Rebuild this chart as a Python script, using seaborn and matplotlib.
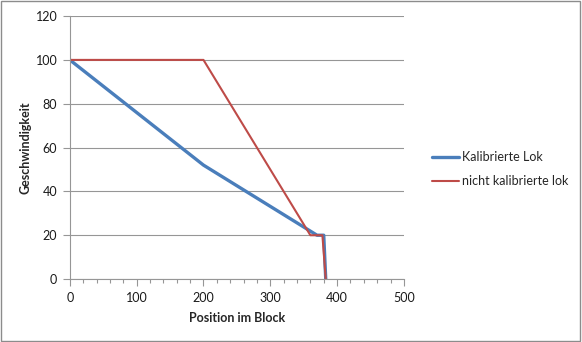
import matplotlib
matplotlib.use("Agg")
import matplotlib.pyplot as plt
from matplotlib.ticker import MultipleLocator
from matplotlib.patches import Rectangle
import seaborn as sns
import pandas as pd

# Speed profile along the block for both locomotives
pos_kalibriert = [0, 200, 370, 380, 383]
v_kalibriert = [100, 52, 20, 20, 0]
pos_nicht = [0, 200, 360, 378, 383]
v_nicht = [100, 100, 20, 20, 0]

label_kalibriert = "Kalibrierte Lok"
label_nicht = "nicht kalibrierte lok"

sns.set_style("white")
plt.rcParams["font.family"] = ["Lato", "DejaVu Sans"]

fig = plt.figure(figsize=(5.82, 3.42), dpi=100)
ax = fig.add_axes([0.120, 0.184, 0.574, 0.769])

df_k = pd.DataFrame({"Position": pos_kalibriert, "Speed": v_kalibriert})
df_n = pd.DataFrame({"Position": pos_nicht, "Speed": v_nicht})

sns.lineplot(data=df_k, x="Position", y="Speed", sort=False, estimator=None,
             color="#4A7EBB", linewidth=2.4, ax=ax, label=label_kalibriert)
sns.lineplot(data=df_n, x="Position", y="Speed", sort=False, estimator=None,
             color="#BE4B48", linewidth=1.5, ax=ax, label=label_nicht)

ax.set_xlim(0, 500)
ax.set_ylim(0, 120)
ax.xaxis.set_major_locator(MultipleLocator(100))
ax.xaxis.set_minor_locator(MultipleLocator(20))
ax.yaxis.set_major_locator(MultipleLocator(20))

ax.grid(axis="y", color="#969696", linewidth=0.8)
ax.set_axisbelow(True)
for side in ["top", "right"]:
    ax.spines[side].set_visible(False)
for side in ["left", "bottom"]:
    ax.spines[side].set_color("#969696")
    ax.spines[side].set_linewidth(0.8)

ax.tick_params(axis="both", which="both", direction="out", color="#969696",
               labelsize=9, labelcolor="#1a1a1a")
ax.tick_params(axis="both", which="major", length=5, width=0.8, pad=4)
ax.tick_params(axis="x", which="minor", length=3, width=0.8)
ax.tick_params(axis="x", which="both", bottom=True)
ax.tick_params(axis="y", which="both", left=True)

ax.set_xlabel("Position im Block", fontsize=9, fontweight="bold", labelpad=6)
ax.set_ylabel("Geschwindigkeit", fontsize=9, fontweight="bold", labelpad=3)

leg = ax.legend(loc="center left", bbox_to_anchor=(1.05, 0.418), frameon=False,
                fontsize=9, handlelength=2.2, handletextpad=0.2, labelspacing=1.0)

# Outer chart border
fig.patches.append(Rectangle((0.002, 0.003), 0.995, 0.994, transform=fig.transFigure,
                             fill=False, edgecolor="#8C8C8C", linewidth=1.0))

fig.savefig("out.png", dpi=100)
